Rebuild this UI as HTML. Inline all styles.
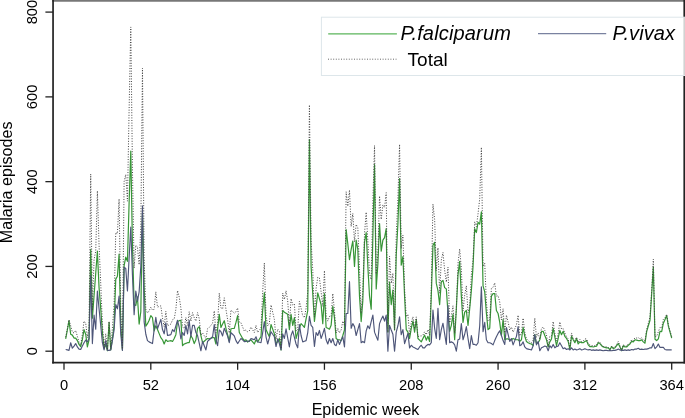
<!DOCTYPE html>
<html><head><meta charset="utf-8"><style>
html,body{margin:0;padding:0;background:#fff;width:685px;height:418px;overflow:hidden}
svg{display:block;font-family:"Liberation Sans",sans-serif;will-change:transform}
text{fill:#000}
</style></head><body>
<svg width="685" height="418" viewBox="0 0 685 418">
<rect width="685" height="418" fill="#fff"/>
<g>
<polyline points="65.67,338.91 67.34,330.01 69.01,320.68 70.68,334.25 72.35,335.09 74.02,338.06 75.69,338.06 77.36,340.60 79.03,344.42 80.70,346.54 82.36,339.76 84.03,329.58 85.70,334.25 87.37,346.96 89.04,339.76 90.71,249.47 92.38,318.14 94.05,295.67 95.72,273.21 97.39,251.17 99.06,287.62 100.73,308.81 102.40,332.55 104.07,348.66 105.74,344.42 107.41,350.78 109.08,322.38 110.75,349.93 112.42,338.48 114.09,325.34 115.75,279.14 117.42,276.17 119.09,254.13 120.76,325.34 122.43,349.93 124.10,265.58 125.77,257.10 127.44,261.34 129.11,202.84 130.78,151.13 132.45,245.23 134.12,304.57 135.79,305.42 137.46,296.94 139.13,324.07 140.80,311.78 142.47,213.44 144.14,287.62 145.81,326.19 147.48,323.65 149.14,320.26 150.81,315.59 152.48,317.71 154.15,330.85 155.82,325.77 157.49,329.58 159.16,333.61 160.83,337.64 162.50,339.76 164.17,343.99 165.84,339.76 167.51,341.45 169.18,341.03 170.85,340.60 172.52,341.45 174.19,338.48 175.86,334.67 177.53,321.53 179.20,320.68 180.87,320.26 182.53,345.69 184.20,343.99 185.87,343.36 187.54,342.72 189.21,342.72 190.88,335.52 192.55,338.48 194.22,343.57 195.89,339.76 197.56,328.31 199.23,326.62 200.90,335.52 202.57,342.72 204.24,341.24 205.91,339.76 207.58,338.48 209.25,338.91 210.92,338.27 212.59,337.64 214.26,337.64 215.93,343.99 217.59,329.16 219.26,314.32 220.93,327.46 222.60,324.07 224.27,320.68 225.94,328.31 227.61,334.88 229.28,341.45 230.95,328.73 232.62,328.52 234.29,328.31 235.96,322.38 237.63,315.59 239.30,332.55 240.97,335.52 242.64,338.48 244.31,340.60 245.98,339.76 247.65,342.09 249.32,340.60 250.98,339.76 252.65,341.87 254.32,343.99 255.99,339.76 257.66,341.87 259.33,339.23 261.00,336.58 262.67,310.51 264.34,292.71 266.01,329.58 267.68,333.19 269.35,336.79 271.02,324.50 272.69,329.16 274.36,333.82 276.03,343.99 277.70,341.45 279.37,338.48 281.04,349.93 282.71,310.51 284.37,312.20 286.04,313.26 287.71,314.32 289.38,329.58 291.05,314.32 292.72,325.34 294.39,317.71 296.06,338.48 297.73,332.55 299.40,328.10 301.07,323.65 302.74,325.34 304.41,327.46 306.08,318.99 307.75,310.51 309.42,139.69 311.09,266.43 312.76,293.87 314.43,321.32 316.10,307.12 317.76,292.92 319.43,298.75 321.10,304.57 322.77,323.65 324.44,293.55 326.11,327.46 327.78,328.31 329.45,329.16 331.12,325.34 332.79,306.27 334.46,317.71 336.13,338.48 337.80,339.76 339.47,339.76 341.14,340.60 342.81,335.52 344.48,330.01 346.15,229.55 347.82,243.96 349.49,259.64 351.15,249.47 352.82,240.99 354.49,266.43 356.16,240.14 357.83,249.47 359.50,296.10 361.17,321.53 362.84,300.33 364.51,242.26 366.18,232.51 367.85,266.43 369.52,296.10 371.19,309.24 372.86,236.75 374.53,164.70 376.20,288.89 377.87,264.31 379.54,223.61 381.21,251.17 382.88,240.14 384.55,237.60 386.21,228.70 387.88,332.13 389.55,282.11 391.22,304.57 392.89,290.16 394.56,330.01 396.23,254.98 397.90,224.04 399.57,178.68 401.24,265.15 402.91,256.68 404.58,296.10 406.25,329.58 407.92,332.13 409.59,338.48 411.26,328.31 412.93,321.10 414.60,332.13 416.27,319.41 417.94,338.48 419.60,340.18 421.27,341.87 422.94,338.48 424.61,335.09 426.28,340.18 427.95,336.36 429.62,341.45 431.29,296.10 432.96,245.23 434.63,242.26 436.30,283.38 437.97,290.59 439.64,304.57 441.31,281.68 442.98,280.41 444.65,287.62 446.32,288.89 447.99,313.05 449.66,331.28 451.33,325.34 452.99,314.32 454.66,339.76 456.33,308.81 458.00,274.90 459.67,261.34 461.34,296.10 463.01,322.38 464.68,312.20 466.35,310.51 468.02,325.34 469.69,308.81 471.36,290.59 473.03,266.43 474.70,228.70 476.37,232.51 478.04,222.34 479.71,224.04 481.38,211.75 483.05,285.92 484.72,291.86 486.38,313.05 488.05,329.58 489.72,328.31 491.39,296.10 493.06,293.55 494.73,293.55 496.40,310.51 498.07,313.48 499.74,322.38 501.41,335.52 503.08,319.41 504.75,339.76 506.42,338.91 508.09,338.91 509.76,339.76 511.43,339.76 513.10,338.48 514.77,339.33 516.44,339.76 518.11,339.76 519.78,341.45 521.44,339.76 523.11,327.46 524.78,336.36 526.45,341.45 528.12,342.72 529.79,343.57 531.46,343.99 533.13,345.69 534.80,334.67 536.47,343.57 538.14,342.72 539.81,339.76 541.48,331.70 543.15,331.28 544.82,335.52 546.49,339.76 548.16,346.96 549.83,341.87 551.50,338.91 553.17,328.31 554.83,336.79 556.50,345.69 558.17,338.48 559.84,330.43 561.51,334.67 563.18,331.28 564.85,336.36 566.52,338.48 568.19,341.45 569.86,349.50 571.53,336.36 573.20,339.76 574.87,342.72 576.54,338.48 578.21,343.99 579.88,341.87 581.55,342.72 583.22,342.72 584.89,341.45 586.56,340.60 588.22,344.84 589.89,346.54 591.56,346.54 593.23,346.96 594.90,346.54 596.57,346.11 598.24,342.72 599.91,343.57 601.58,345.69 603.25,346.96 604.92,347.39 606.59,347.81 608.26,347.81 609.93,349.93 611.60,346.54 613.27,348.66 614.94,347.81 616.61,345.69 618.28,343.57 619.95,346.96 621.61,350.78 623.28,345.69 624.95,346.96 626.62,346.96 628.29,345.27 629.96,343.99 631.63,341.45 633.30,341.87 634.97,339.76 636.64,340.18 638.31,340.60 639.98,340.60 641.65,339.76 643.32,341.87 644.99,343.15 646.66,331.70 648.33,325.77 650.00,320.26 651.67,293.98 653.34,266.85 655.00,339.33 656.67,340.60 658.34,338.91 660.01,331.28 661.68,331.70 663.35,323.22 665.02,319.41 666.69,315.59 668.36,326.19 670.03,332.13 671.70,338.06" fill="none" stroke="#379637" stroke-width="1.2" stroke-linejoin="round"/>
<polyline points="65.67,349.50 67.34,349.93 69.01,350.35 70.68,342.72 72.35,348.23 74.02,346.11 75.69,343.57 77.36,346.96 79.03,349.08 80.70,349.50 82.36,346.11 84.03,342.72 85.70,340.18 87.37,341.87 89.04,338.48 90.71,275.75 92.38,343.57 94.05,315.17 95.72,329.16 97.39,291.01 99.06,308.81 100.73,325.77 102.40,342.72 104.07,349.93 105.74,340.60 107.41,350.35 109.08,350.35 110.75,349.93 112.42,340.60 114.09,330.01 115.75,304.57 117.42,308.81 119.09,296.10 120.76,334.25 122.43,350.35 124.10,267.27 125.77,268.54 127.44,291.01 129.11,257.95 130.78,227.00 132.45,274.90 134.12,314.75 135.79,291.01 137.46,301.18 139.13,291.86 140.80,266.43 142.47,205.81 144.14,321.95 145.81,334.25 147.48,340.60 149.14,341.87 150.81,342.72 152.48,343.57 154.15,329.58 155.82,317.29 157.49,328.73 159.16,324.07 160.83,319.41 162.50,329.58 164.17,333.82 165.84,322.80 167.51,335.52 169.18,335.09 170.85,334.67 172.52,329.58 174.19,331.70 175.86,325.98 177.53,320.26 179.20,327.46 180.87,338.91 182.53,332.55 184.20,335.52 185.87,325.34 187.54,333.82 189.21,320.26 190.88,336.79 192.55,325.34 194.22,325.34 195.89,332.55 197.56,335.52 199.23,343.15 200.90,350.78 202.57,341.45 204.24,345.69 205.91,349.93 207.58,341.45 209.25,339.76 210.92,338.27 212.59,336.79 214.26,324.50 215.93,339.76 217.59,345.69 219.26,330.01 220.93,331.70 222.60,335.94 224.27,328.31 225.94,332.13 227.61,335.94 229.28,342.72 230.95,332.55 232.62,334.25 234.29,335.94 235.96,340.60 237.63,343.57 239.30,341.03 240.97,338.48 242.64,339.76 244.31,341.66 245.98,341.34 247.65,341.03 249.32,341.45 250.98,338.48 252.65,339.12 254.32,339.76 255.99,336.79 257.66,341.87 259.33,342.30 261.00,342.72 262.67,332.55 264.34,321.53 266.01,336.79 267.68,343.99 269.35,337.85 271.02,331.70 272.69,334.25 274.36,336.79 276.03,346.54 277.70,338.91 279.37,343.57 281.04,349.93 282.71,333.82 284.37,338.48 286.04,328.73 287.71,337.85 289.38,346.96 291.05,335.52 292.72,330.85 294.39,337.42 296.06,343.99 297.73,347.81 299.40,324.50 301.07,335.52 302.74,341.87 304.41,341.24 306.08,340.60 307.75,332.55 309.42,316.44 311.09,325.34 312.76,327.46 314.43,346.54 316.10,332.55 317.76,335.52 319.43,330.43 321.10,338.48 322.77,333.82 324.44,328.31 326.11,339.76 327.78,343.99 329.45,338.48 331.12,342.72 332.79,338.48 334.46,344.42 336.13,345.69 337.80,339.76 339.47,344.42 341.14,340.60 342.81,336.79 344.48,346.96 346.15,313.48 347.82,313.48 349.49,281.68 351.15,328.31 352.82,323.65 354.49,326.62 356.16,335.52 357.83,329.58 359.50,323.65 361.17,342.72 362.84,341.45 364.51,342.72 366.18,330.85 367.85,325.77 369.52,328.73 371.19,321.53 372.86,315.17 374.53,332.13 376.20,336.36 377.87,340.18 379.54,323.65 381.21,319.41 382.88,316.02 384.55,321.10 386.21,315.17 387.88,351.20 389.55,325.34 391.22,330.01 392.89,334.25 394.56,351.20 396.23,332.13 397.90,325.77 399.57,316.87 401.24,334.67 402.91,329.58 404.58,343.57 406.25,338.48 407.92,333.40 409.59,347.81 411.26,345.27 412.93,346.96 414.60,347.81 416.27,348.66 417.94,349.50 419.60,346.96 421.27,345.27 422.94,347.81 424.61,347.81 426.28,345.69 427.95,344.42 429.62,344.84 431.29,342.72 432.96,310.08 434.63,328.31 436.30,338.48 437.97,308.39 439.64,339.76 441.31,329.58 442.98,323.22 444.65,333.82 446.32,344.42 447.99,305.42 449.66,342.72 451.33,341.87 452.99,342.72 454.66,344.84 456.33,351.20 458.00,339.76 459.67,338.91 461.34,323.65 463.01,339.76 464.68,334.25 466.35,326.62 468.02,338.48 469.69,348.66 471.36,335.52 473.03,344.42 474.70,344.42 476.37,345.27 478.04,342.72 479.71,325.77 481.38,286.77 483.05,331.70 484.72,322.38 486.38,339.76 488.05,342.72 489.72,342.72 491.39,343.57 493.06,344.84 494.73,340.60 496.40,336.79 498.07,333.40 499.74,330.85 501.41,335.52 503.08,340.60 504.75,344.42 506.42,327.46 508.09,334.25 509.76,341.45 511.43,338.48 513.10,344.84 514.77,340.60 516.44,336.36 518.11,326.62 519.78,345.69 521.44,344.84 523.11,341.87 524.78,346.96 526.45,348.66 528.12,349.08 529.79,349.50 531.46,349.93 533.13,345.69 534.80,334.67 536.47,344.84 538.14,341.45 539.81,350.78 541.48,347.81 543.15,346.96 544.82,346.11 546.49,346.54 548.16,350.78 549.83,345.69 551.50,347.81 553.17,344.42 554.83,347.81 556.50,346.54 558.17,346.11 559.84,342.72 561.51,345.69 563.18,348.66 564.85,347.81 566.52,349.50 568.19,348.66 569.86,349.93 571.53,347.81 573.20,349.93 574.87,349.08 576.54,349.93 578.21,349.50 579.88,348.66 581.55,349.93 583.22,349.50 584.89,348.66 586.56,349.50 588.22,349.93 589.89,349.50 591.56,350.35 593.23,349.93 594.90,350.35 596.57,349.93 598.24,350.35 599.91,349.93 601.58,350.35 603.25,350.78 604.92,350.35 606.59,350.35 608.26,350.78 609.93,350.35 611.60,350.78 613.27,350.35 614.94,350.35 616.61,349.93 618.28,349.08 619.95,349.93 621.61,350.35 623.28,350.35 624.95,349.93 626.62,350.35 628.29,349.93 629.96,350.35 631.63,349.50 633.30,349.93 634.97,349.08 636.64,349.08 638.31,348.23 639.98,349.50 641.65,349.08 643.32,349.50 644.99,349.08 646.66,349.08 648.33,348.66 650.00,347.81 651.67,347.81 653.34,343.57 655.00,348.66 656.67,346.96 658.34,343.99 660.01,347.39 661.68,347.39 663.35,347.39 665.02,349.50 666.69,349.93 668.36,349.93 670.03,349.93 671.70,349.93" fill="none" stroke="#4e5679" stroke-width="1.15" stroke-linejoin="round"/>
<polyline points="65.67,337.21 67.34,328.73 69.01,319.83 70.68,325.77 72.35,332.13 74.02,332.97 75.69,330.43 77.36,336.36 79.03,342.30 80.70,344.84 82.36,334.67 84.03,321.10 85.70,323.22 87.37,337.64 89.04,327.04 90.71,174.02 92.38,310.51 94.05,259.64 95.72,251.17 97.39,190.98 99.06,245.23 100.73,283.38 102.40,324.07 104.07,347.39 105.74,333.82 107.41,349.93 109.08,321.53 110.75,348.66 112.42,327.89 114.09,304.15 115.75,232.51 117.42,233.79 119.09,199.03 120.76,308.39 122.43,349.08 124.10,181.65 125.77,174.44 127.44,201.15 129.11,109.59 130.78,26.94 132.45,168.93 134.12,268.12 135.79,245.23 137.46,246.93 139.13,264.73 140.80,227.00 142.47,68.05 144.14,258.37 145.81,309.24 147.48,313.05 149.14,310.93 150.81,307.12 152.48,310.08 154.15,309.24 155.82,291.86 157.49,307.12 159.16,306.48 160.83,305.85 162.50,318.14 164.17,326.62 165.84,311.36 167.51,325.77 169.18,324.92 170.85,324.07 172.52,319.83 174.19,318.99 175.86,309.45 177.53,290.59 179.20,296.94 180.87,307.96 182.53,327.04 184.20,328.31 185.87,317.50 187.54,325.34 189.21,311.78 190.88,321.10 192.55,312.63 194.22,317.71 195.89,321.10 197.56,312.63 199.23,318.56 200.90,335.09 202.57,332.97 204.24,335.73 205.91,338.48 207.58,328.73 209.25,327.46 210.92,325.34 212.59,323.22 214.26,310.93 215.93,332.55 217.59,323.65 219.26,293.13 220.93,307.96 222.60,308.81 224.27,297.79 225.94,309.24 227.61,319.62 229.28,332.97 230.95,310.08 232.62,311.57 234.29,313.05 235.96,311.78 237.63,307.96 239.30,322.38 240.97,322.80 242.64,327.04 244.31,331.07 245.98,329.90 247.65,331.91 249.32,330.85 250.98,327.04 252.65,329.79 254.32,332.55 255.99,325.34 257.66,332.55 259.33,330.32 261.00,328.10 262.67,291.86 264.34,263.03 266.01,315.17 267.68,325.98 269.35,323.44 271.02,305.00 272.69,312.20 274.36,319.41 276.03,339.33 277.70,329.16 279.37,330.85 281.04,348.66 282.71,293.13 284.37,299.49 286.04,290.80 287.71,300.97 289.38,325.34 291.05,298.64 292.72,305.00 294.39,303.94 296.06,331.28 297.73,329.16 299.40,301.39 301.07,307.96 302.74,316.02 304.41,317.50 306.08,308.39 307.75,291.86 309.42,104.93 311.09,240.57 312.76,270.13 314.43,316.65 316.10,288.47 317.76,277.23 319.43,277.98 321.10,291.86 322.77,306.27 324.44,270.66 326.11,316.02 327.78,321.10 329.45,316.44 331.12,316.87 332.79,293.55 334.46,310.93 336.13,332.97 337.80,328.31 339.47,332.97 341.14,330.01 342.81,321.10 344.48,325.77 346.15,191.82 347.82,206.23 349.49,190.13 351.15,226.58 352.82,213.44 354.49,241.84 356.16,224.46 357.83,227.85 359.50,268.54 361.17,313.05 362.84,290.59 364.51,233.79 366.18,212.17 367.85,240.99 369.52,273.63 371.19,279.57 372.86,200.72 374.53,145.62 376.20,274.05 377.87,253.28 379.54,196.06 381.21,219.37 382.88,204.96 384.55,207.51 386.21,192.67 387.88,332.13 389.55,256.25 391.22,283.38 392.89,273.21 394.56,330.01 396.23,235.91 397.90,198.61 399.57,144.35 401.24,248.62 402.91,235.06 404.58,288.47 406.25,316.87 407.92,314.32 409.59,335.09 411.26,322.38 412.93,316.87 414.60,328.73 416.27,316.87 417.94,336.79 419.60,335.94 421.27,335.94 422.94,335.09 424.61,331.70 426.28,334.67 427.95,329.58 429.62,335.09 431.29,287.62 432.96,204.12 434.63,219.37 436.30,270.66 437.97,247.77 439.64,293.13 441.31,260.07 442.98,252.44 444.65,270.24 446.32,282.11 447.99,267.27 449.66,322.80 451.33,316.02 452.99,305.85 454.66,333.40 456.33,308.81 458.00,263.46 459.67,249.05 461.34,268.54 463.01,310.93 464.68,295.25 466.35,285.92 468.02,312.63 469.69,306.27 471.36,274.90 473.03,259.64 474.70,221.92 476.37,226.58 478.04,213.86 479.71,198.61 481.38,147.32 483.05,266.43 484.72,263.03 486.38,301.61 488.05,321.10 489.72,319.83 491.39,288.47 493.06,287.19 494.73,282.96 496.40,296.10 498.07,295.67 499.74,302.03 501.41,319.83 503.08,308.81 504.75,332.97 506.42,315.17 508.09,321.95 509.76,330.01 511.43,327.04 513.10,332.13 514.77,328.73 516.44,324.92 518.11,315.17 519.78,335.94 521.44,333.40 523.11,318.14 524.78,332.13 526.45,338.91 528.12,340.60 529.79,341.87 531.46,342.72 533.13,340.18 534.80,318.14 536.47,337.21 538.14,332.97 539.81,339.33 541.48,328.31 543.15,327.04 544.82,330.43 546.49,335.09 548.16,346.54 549.83,336.36 551.50,335.52 553.17,321.53 554.83,333.40 556.50,341.03 558.17,333.40 559.84,321.95 561.51,329.16 563.18,328.73 564.85,332.97 566.52,336.79 568.19,338.91 569.86,348.23 571.53,332.97 573.20,338.48 574.87,340.60 576.54,337.21 578.21,342.30 579.88,339.33 581.55,341.45 583.22,341.03 584.89,338.91 586.56,338.91 588.22,343.57 589.89,344.84 591.56,345.69 593.23,345.69 594.90,345.69 596.57,344.84 598.24,341.87 599.91,342.30 601.58,344.84 603.25,346.54 604.92,346.54 606.59,346.96 608.26,347.39 609.93,349.08 611.60,346.11 613.27,347.81 614.94,346.96 616.61,344.42 618.28,341.45 619.95,345.69 621.61,349.93 623.28,344.84 624.95,345.69 626.62,346.11 628.29,343.99 629.96,343.15 631.63,339.76 633.30,340.60 634.97,337.64 636.64,338.06 638.31,337.64 639.98,338.91 641.65,337.64 643.32,340.18 644.99,341.03 646.66,329.58 648.33,323.22 650.00,316.87 651.67,290.59 653.34,259.22 655.00,336.79 656.67,336.36 658.34,331.70 660.01,327.46 661.68,327.89 663.35,319.41 665.02,317.71 666.69,314.32 668.36,324.92 670.03,330.85 671.70,336.79" fill="none" stroke="#444" stroke-width="1" stroke-dasharray="1,1.6"/>
</g>
<line x1="52.2" y1="0.8" x2="685" y2="0.8" stroke="#777" stroke-width="1.7"/>
<line x1="684.2" y1="0" x2="684.2" y2="363.4" stroke="#222" stroke-width="1.6"/>
<line x1="53.05" y1="0" x2="53.05" y2="363.5" stroke="#222" stroke-width="1.7"/>
<line x1="52.2" y1="362.7" x2="685" y2="362.7" stroke="#222" stroke-width="1.7"/>
<line x1="45.4" y1="351.20" x2="53" y2="351.20" stroke="#222" stroke-width="1.3"/>
<text transform="translate(36.6,351.20) rotate(-90)" text-anchor="middle" font-size="14.7">0</text>
<line x1="45.4" y1="266.43" x2="53" y2="266.43" stroke="#222" stroke-width="1.3"/>
<text transform="translate(36.6,266.43) rotate(-90)" text-anchor="middle" font-size="14.7">200</text>
<line x1="45.4" y1="181.65" x2="53" y2="181.65" stroke="#222" stroke-width="1.3"/>
<text transform="translate(36.6,181.65) rotate(-90)" text-anchor="middle" font-size="14.7">400</text>
<line x1="45.4" y1="96.88" x2="53" y2="96.88" stroke="#222" stroke-width="1.3"/>
<text transform="translate(36.6,96.88) rotate(-90)" text-anchor="middle" font-size="14.7">600</text>
<line x1="45.4" y1="12.10" x2="53" y2="12.10" stroke="#222" stroke-width="1.3"/>
<text transform="translate(36.6,12.10) rotate(-90)" text-anchor="middle" font-size="14.7">800</text>
<line x1="64.00" y1="363" x2="64.00" y2="369.8" stroke="#222" stroke-width="1.3"/>
<text x="64.00" y="390.2" text-anchor="middle" font-size="14.7">0</text>
<line x1="150.81" y1="363" x2="150.81" y2="369.8" stroke="#222" stroke-width="1.3"/>
<text x="150.81" y="390.2" text-anchor="middle" font-size="14.7">52</text>
<line x1="237.63" y1="363" x2="237.63" y2="369.8" stroke="#222" stroke-width="1.3"/>
<text x="237.63" y="390.2" text-anchor="middle" font-size="14.7">104</text>
<line x1="324.44" y1="363" x2="324.44" y2="369.8" stroke="#222" stroke-width="1.3"/>
<text x="324.44" y="390.2" text-anchor="middle" font-size="14.7">156</text>
<line x1="411.26" y1="363" x2="411.26" y2="369.8" stroke="#222" stroke-width="1.3"/>
<text x="411.26" y="390.2" text-anchor="middle" font-size="14.7">208</text>
<line x1="498.07" y1="363" x2="498.07" y2="369.8" stroke="#222" stroke-width="1.3"/>
<text x="498.07" y="390.2" text-anchor="middle" font-size="14.7">260</text>
<line x1="584.89" y1="363" x2="584.89" y2="369.8" stroke="#222" stroke-width="1.3"/>
<text x="584.89" y="390.2" text-anchor="middle" font-size="14.7">312</text>
<line x1="671.70" y1="363" x2="671.70" y2="369.8" stroke="#222" stroke-width="1.3"/>
<text x="671.70" y="390.2" text-anchor="middle" font-size="14.7">364</text>
<text transform="translate(12,182.4) rotate(-90)" text-anchor="middle" font-size="16.1">Malaria episodes</text>
<text x="365.5" y="414.6" text-anchor="middle" font-size="16">Epidemic week</text>
<rect x="321.4" y="17.2" width="380" height="58.3" fill="#fff" fill-opacity="0.8" stroke="#dde6ea" stroke-width="1"/>
<line x1="328.2" y1="33.8" x2="396.9" y2="33.8" stroke="#5bb55b" stroke-width="1.3"/>
<line x1="538" y1="33.6" x2="606.2" y2="33.6" stroke="#7a82a0" stroke-width="1.3"/>
<line x1="328" y1="59.2" x2="396.5" y2="59.2" stroke="#666" stroke-width="1" stroke-dasharray="1,1.6"/>
<text x="400.5" y="39.8" font-size="20" font-style="italic" letter-spacing="0.16">P.falciparum</text>
<text x="612.5" y="39.8" font-size="20" font-style="italic" letter-spacing="0.12">P.vivax</text>
<text x="407.6" y="66.4" font-size="19">Total</text>
</svg>
</body></html>
